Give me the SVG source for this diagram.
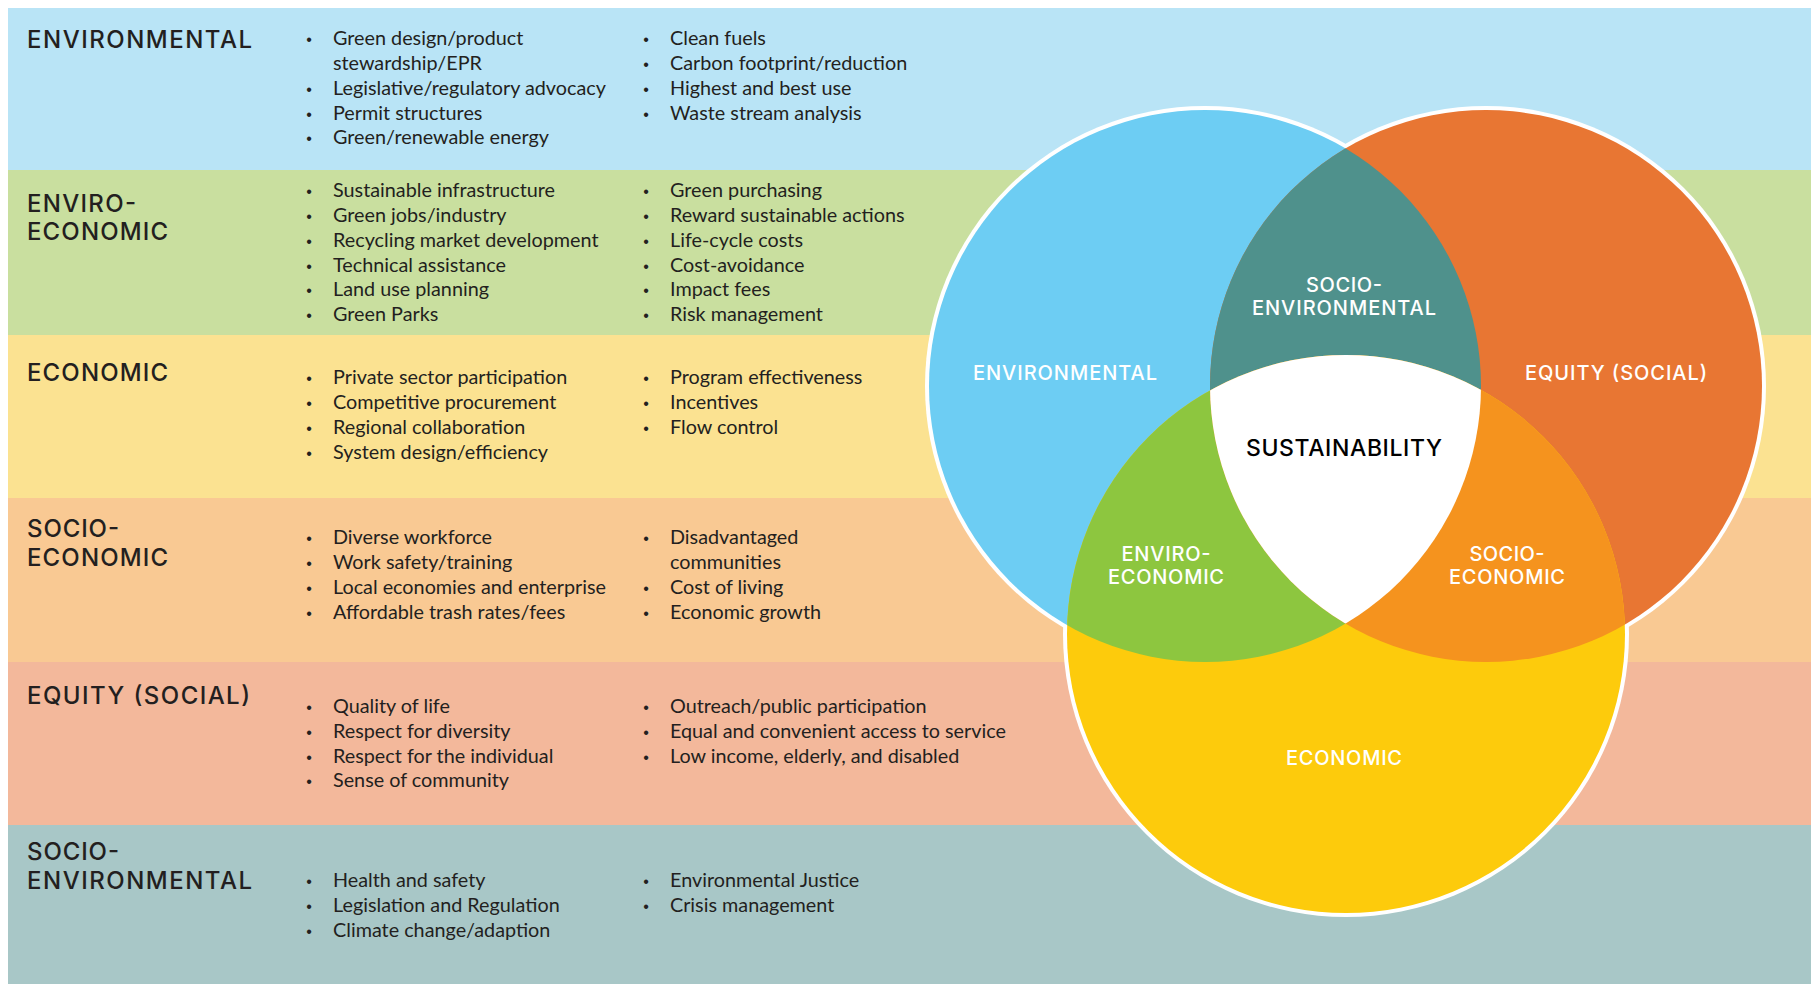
<svg xmlns="http://www.w3.org/2000/svg" width="1815" height="984" viewBox="0 0 1815 984">
<style>
.head{font-family:Inter,"Liberation Sans",sans-serif;font-weight:500;font-size:24px;fill:#231f20}
.item{font-family:Lato,"Liberation Sans",sans-serif;font-size:19.8px;fill:#231f20}
.bul{font-family:"Liberation Sans",sans-serif;font-size:16px;fill:#231f20;text-anchor:middle}
.vl{font-family:Inter,"Liberation Sans",sans-serif;font-weight:500;font-size:20px;fill:#ffffff;text-anchor:middle}
</style>
<defs>
<clipPath id="cBlue"><circle cx="1205" cy="386" r="276"/></clipPath>
<clipPath id="cOrange"><circle cx="1486" cy="386" r="276"/></clipPath>
</defs>
<rect x="0" y="0" width="1815" height="984" fill="#ffffff"/>
<g id="band-environmental">
<rect x="8" y="8" width="1803" height="162" fill="#b9e4f6"/>
<text class="head" x="27" y="48" textLength="225">ENVIRONMENTAL</text>
<text class="bul" x="309" y="45">•</text><text class="item" x="333" y="45">Green design/product</text>
<text class="item" x="333" y="70">stewardship/EPR</text>
<text class="bul" x="309" y="95">•</text><text class="item" x="333" y="95">Legislative/regulatory advocacy</text>
<text class="bul" x="309" y="120">•</text><text class="item" x="333" y="120">Permit structures</text>
<text class="bul" x="309" y="144">•</text><text class="item" x="333" y="144">Green/renewable energy</text>
<text class="bul" x="646" y="45">•</text><text class="item" x="670" y="45">Clean fuels</text>
<text class="bul" x="646" y="70">•</text><text class="item" x="670" y="70">Carbon footprint/reduction</text>
<text class="bul" x="646" y="95">•</text><text class="item" x="670" y="95">Highest and best use</text>
<text class="bul" x="646" y="120">•</text><text class="item" x="670" y="120">Waste stream analysis</text>
</g>
<g id="band-enviro-economic">
<rect x="8" y="170" width="1803" height="165" fill="#c9df9f"/>
<text class="head" x="27" y="212" textLength="109">ENVIRO-</text>
<text class="head" x="27" y="240" textLength="141">ECONOMIC</text>
<text class="bul" x="309" y="197">•</text><text class="item" x="333" y="197">Sustainable infrastructure</text>
<text class="bul" x="309" y="222">•</text><text class="item" x="333" y="222">Green jobs/industry</text>
<text class="bul" x="309" y="247">•</text><text class="item" x="333" y="247">Recycling market development</text>
<text class="bul" x="309" y="272">•</text><text class="item" x="333" y="272">Technical assistance</text>
<text class="bul" x="309" y="296">•</text><text class="item" x="333" y="296">Land use planning</text>
<text class="bul" x="309" y="321">•</text><text class="item" x="333" y="321">Green Parks</text>
<text class="bul" x="646" y="197">•</text><text class="item" x="670" y="197">Green purchasing</text>
<text class="bul" x="646" y="222">•</text><text class="item" x="670" y="222">Reward sustainable actions</text>
<text class="bul" x="646" y="247">•</text><text class="item" x="670" y="247">Life-cycle costs</text>
<text class="bul" x="646" y="272">•</text><text class="item" x="670" y="272">Cost-avoidance</text>
<text class="bul" x="646" y="296">•</text><text class="item" x="670" y="296">Impact fees</text>
<text class="bul" x="646" y="321">•</text><text class="item" x="670" y="321">Risk management</text>
</g>
<g id="band-economic">
<rect x="8" y="335" width="1803" height="163" fill="#fbe291"/>
<text class="head" x="27" y="381" textLength="141">ECONOMIC</text>
<text class="bul" x="309" y="384">•</text><text class="item" x="333" y="384">Private sector participation</text>
<text class="bul" x="309" y="409">•</text><text class="item" x="333" y="409">Competitive procurement</text>
<text class="bul" x="309" y="434">•</text><text class="item" x="333" y="434">Regional collaboration</text>
<text class="bul" x="309" y="459">•</text><text class="item" x="333" y="459">System design/efficiency</text>
<text class="bul" x="646" y="384">•</text><text class="item" x="670" y="384">Program effectiveness</text>
<text class="bul" x="646" y="409">•</text><text class="item" x="670" y="409">Incentives</text>
<text class="bul" x="646" y="434">•</text><text class="item" x="670" y="434">Flow control</text>
</g>
<g id="band-socio-economic">
<rect x="8" y="498" width="1803" height="164" fill="#f9c993"/>
<text class="head" x="27" y="537" textLength="92">SOCIO-</text>
<text class="head" x="27" y="566" textLength="141">ECONOMIC</text>
<text class="bul" x="309" y="544">•</text><text class="item" x="333" y="544">Diverse workforce</text>
<text class="bul" x="309" y="569">•</text><text class="item" x="333" y="569">Work safety/training</text>
<text class="bul" x="309" y="594">•</text><text class="item" x="333" y="594">Local economies and enterprise</text>
<text class="bul" x="309" y="619">•</text><text class="item" x="333" y="619">Affordable trash rates/fees</text>
<text class="bul" x="646" y="544">•</text><text class="item" x="670" y="544">Disadvantaged</text>
<text class="item" x="670" y="569">communities</text>
<text class="bul" x="646" y="594">•</text><text class="item" x="670" y="594">Cost of living</text>
<text class="bul" x="646" y="619">•</text><text class="item" x="670" y="619">Economic growth</text>
</g>
<g id="band-equity">
<rect x="8" y="662" width="1803" height="163" fill="#f3b89b"/>
<text class="head" x="27" y="704" textLength="223">EQUITY (SOCIAL)</text>
<text class="bul" x="309" y="713">•</text><text class="item" x="333" y="713">Quality of life</text>
<text class="bul" x="309" y="738">•</text><text class="item" x="333" y="738">Respect for diversity</text>
<text class="bul" x="309" y="763">•</text><text class="item" x="333" y="763">Respect for the individual</text>
<text class="bul" x="309" y="787">•</text><text class="item" x="333" y="787">Sense of community</text>
<text class="bul" x="646" y="713">•</text><text class="item" x="670" y="713">Outreach/public participation</text>
<text class="bul" x="646" y="738">•</text><text class="item" x="670" y="738">Equal and convenient access to service</text>
<text class="bul" x="646" y="763">•</text><text class="item" x="670" y="763">Low income, elderly, and disabled</text>
</g>
<g id="band-socio-environmental">
<rect x="8" y="825" width="1803" height="159" fill="#a8c7c7"/>
<text class="head" x="27" y="860" textLength="92">SOCIO-</text>
<text class="head" x="27" y="889" textLength="225">ENVIRONMENTAL</text>
<text class="bul" x="309" y="887">•</text><text class="item" x="333" y="887">Health and safety</text>
<text class="bul" x="309" y="912">•</text><text class="item" x="333" y="912">Legislation and Regulation</text>
<text class="bul" x="309" y="937">•</text><text class="item" x="333" y="937">Climate change/adaption</text>
<text class="bul" x="646" y="887">•</text><text class="item" x="670" y="887">Environmental Justice</text>
<text class="bul" x="646" y="912">•</text><text class="item" x="670" y="912">Crisis management</text>
</g>
<g id="venn">
<g id="venn-outline" fill="#ffffff">
<circle cx="1205" cy="386" r="280"/>
<circle cx="1486" cy="386" r="280"/>
<circle cx="1346" cy="634" r="283"/>
</g>
<g id="venn-environmental">
<circle cx="1205" cy="386" r="276" fill="#6dcdf3"/>
</g>
<g id="venn-equity">
<circle cx="1486" cy="386" r="276" fill="#e87633"/>
</g>
<g id="venn-economic">
<circle cx="1346" cy="634" r="279" fill="#fdcb0c"/>
</g>
<g id="venn-socio-environmental">
<circle cx="1486" cy="386" r="276" fill="#4f918c" clip-path="url(#cBlue)"/>
</g>
<g id="venn-enviro-economic">
<circle cx="1346" cy="634" r="279" fill="#8dc63f" clip-path="url(#cBlue)"/>
</g>
<g id="venn-socio-economic">
<circle cx="1346" cy="634" r="279" fill="#f5931e" clip-path="url(#cOrange)"/>
</g>
<g id="venn-sustainability">
<g clip-path="url(#cBlue)"><circle cx="1346" cy="634" r="279" fill="#ffffff" clip-path="url(#cOrange)"/></g>
</g>
<g id="venn-labels">
<text class="vl" x="1065" y="380" textLength="184">ENVIRONMENTAL</text>
<text class="vl" x="1344" y="292" textLength="76">SOCIO-</text>
<text class="vl" x="1344" y="315" textLength="184">ENVIRONMENTAL</text>
<text class="vl" x="1616" y="380" textLength="182">EQUITY (SOCIAL)</text>
<text class="vl" x="1344" y="456" style="fill:#000000;font-size:23px" textLength="196">SUSTAINABILITY</text>
<text class="vl" x="1166" y="561" textLength="89">ENVIRO-</text>
<text class="vl" x="1166" y="584" textLength="116">ECONOMIC</text>
<text class="vl" x="1507" y="561" textLength="75">SOCIO-</text>
<text class="vl" x="1507" y="584" textLength="116">ECONOMIC</text>
<text class="vl" x="1344" y="765" textLength="116">ECONOMIC</text>
</g>
</g>
</svg>
